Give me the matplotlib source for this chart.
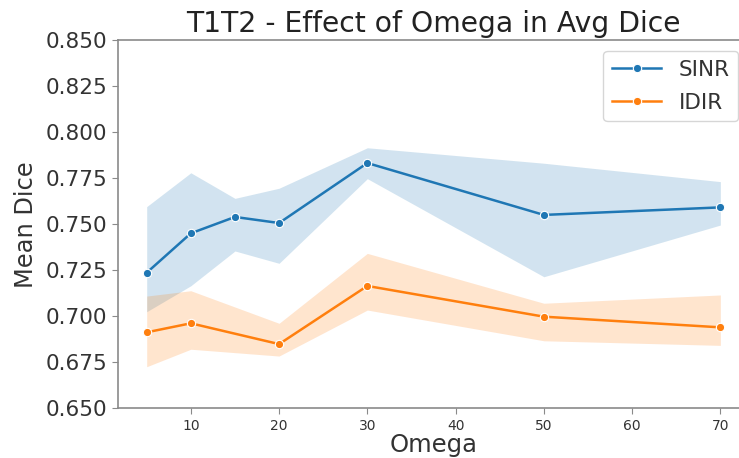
import numpy as np
import matplotlib
matplotlib.use("Agg")
import matplotlib.pyplot as plt

# values
sinr_omega = [5, 10, 15, 20, 30, 50, 70]
sinr_mean = [0.7237, 0.7451, 0.7540, 0.7507, 0.7833, 0.7551, 0.7592]
sinr_low = [0.7025, 0.7166, 0.7355, 0.7288, 0.7748, 0.7215, 0.7496]
sinr_high = [0.7596, 0.7780, 0.7641, 0.7696, 0.7916, 0.7832, 0.7732]

idir_omega = [5, 10, 20, 30, 50, 70]
idir_mean = [0.6913, 0.6962, 0.6849, 0.7165, 0.6998, 0.6940]
idir_low = [0.6726, 0.6821, 0.6784, 0.7034, 0.6867, 0.6842]
idir_high = [0.7110, 0.7139, 0.6962, 0.7342, 0.7071, 0.7116]

yticks = [0.650, 0.675, 0.700, 0.725, 0.750, 0.775, 0.800, 0.825, 0.850]

text_col = "#333333"
spine_col = "#8a8a8a"

fig = plt.figure(figsize=(7.39, 4.58), dpi=100)
# the original picture is cropped on the right, so the axes run past the edge
ax = fig.add_axes([0.1597, 0.1085, 0.8539, 0.8035])

ax.fill_between(sinr_omega, sinr_low, sinr_high, color="#1f77b4", alpha=0.2, linewidth=0)
ax.fill_between(idir_omega, idir_low, idir_high, color="#ff7f0e", alpha=0.2, linewidth=0)
ax.plot(sinr_omega, sinr_mean, color="#1f77b4", marker="o", markersize=6,
        markeredgecolor="white", markeredgewidth=0.8, linewidth=1.8, label="SINR")
ax.plot(idir_omega, idir_mean, color="#ff7f0e", marker="o", markersize=6,
        markeredgecolor="white", markeredgewidth=0.8, linewidth=1.8, label="IDIR")

ax.set_xlim(1.75, 73.25)
ax.set_ylim(0.650, 0.850)
ax.set_yticks(yticks)
ax.set_yticklabels([f"{t:.3f}" for t in yticks])
ax.set_xticks([10, 20, 30, 40, 50, 60, 70])

ax.tick_params(axis="y", labelsize=15.5, colors=spine_col, labelcolor=text_col, length=4)
ax.tick_params(axis="x", labelsize=10, colors=spine_col, labelcolor=text_col, length=4)
for s in ax.spines.values():
    s.set_color(spine_col)
    s.set_linewidth(1.2)
ax.spines["right"].set_visible(False)

ax.set_title("T1T2 - Effect of Omega in Avg Dice", fontsize=20.3, color="#222222")
ax.set_xlabel("Omega", fontsize=17.5, color=text_col, labelpad=0)
ax.set_ylabel("Mean Dice", fontsize=17.4, color=text_col, labelpad=6)

leg = ax.legend(loc="upper right", fontsize=15.5, labelcolor=text_col,
                handlelength=2.3, labelspacing=0.6)

fig.savefig("out.png", dpi=100)
